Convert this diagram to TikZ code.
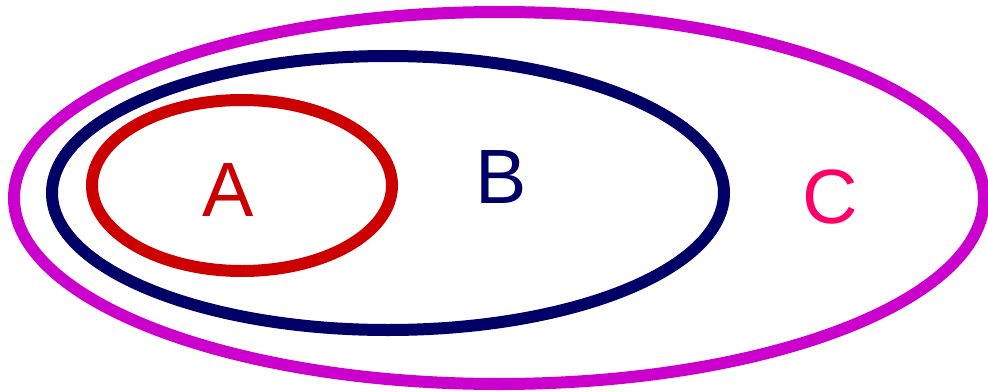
\documentclass[tikz,border=0pt]{standalone}
\usepackage{fontspec}
\setmainfont{Liberation Sans}
\definecolor{cSetA}{RGB}{204,0,0}
\definecolor{cSetB}{RGB}{0,0,102}
\definecolor{cSetC}{RGB}{204,0,204}
\definecolor{cLblC}{RGB}{255,0,102}
\tikzset{
    setline/.style={line width=12pt, draw=#1},
    setlbl/.style={inner sep=0pt, anchor=center, text=#1,
        font=\fontsize{77}{80}\selectfont},
}
\begin{document}
\begin{tikzpicture}[x=1pt, y=-1pt]

% canvas
\useasboundingbox (0,0) rectangle (988,391);

% ================================================================
%  NESTED SETS  A in B in C
% ================================================================
\draw[setline=cSetC] (499,198) ellipse [x radius=485, y radius=186];
\draw[setline=cSetB] (388,193) ellipse [x radius=336, y radius=137];
\draw[setline=cSetA] (242,185.5) ellipse [x radius=150, y radius=85.5];

% labels
\node[setlbl=cSetA] (lblA) at (228,190.5) {A};
\node[setlbl=cSetB] (lblB) at (501.5,177.5) {B};
\node[setlbl=cLblC] (lblC) at (830.5,196.5) {C};

\end{tikzpicture}
\end{document}
